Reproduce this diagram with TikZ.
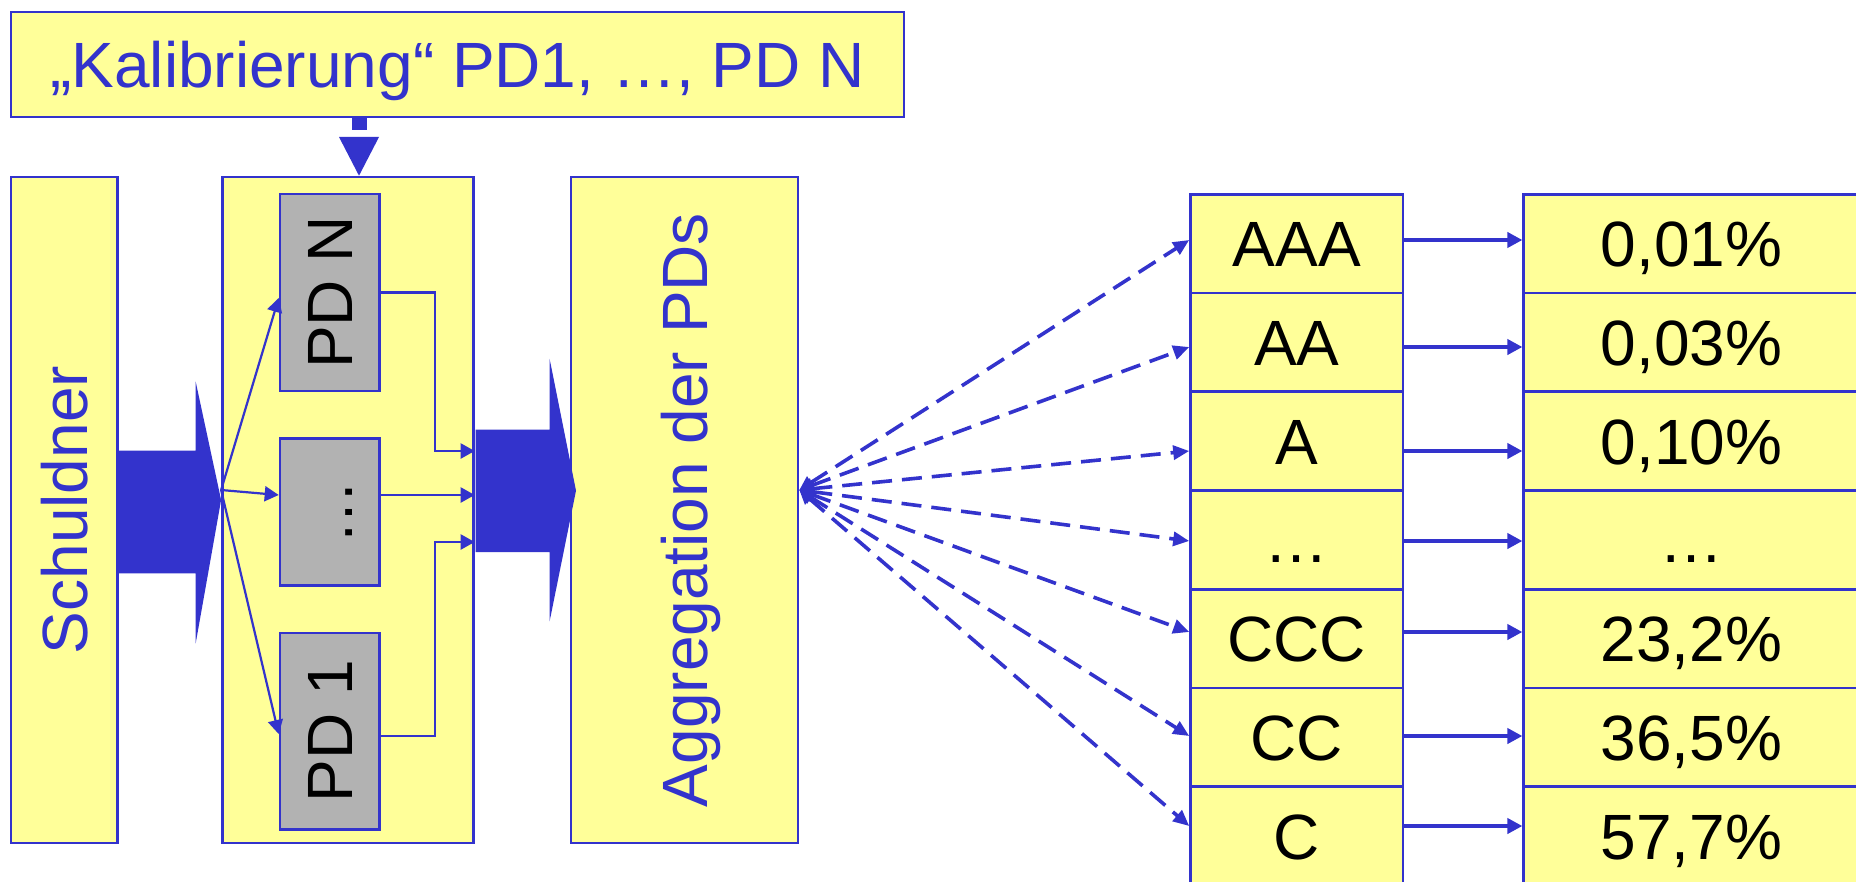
\documentclass[tikz,border=0pt]{standalone}
\usepackage{fontspec}
\setmainfont{Liberation Sans}
\usetikzlibrary{arrows.meta}
\definecolor{pdblue}{RGB}{51,51,204}
\definecolor{pdyellow}{RGB}{255,255,153}
\definecolor{pdgray}{RGB}{178,178,178}
\tikzset{
  box/.style={draw=pdblue, line width=1.3pt, fill=pdyellow, inner sep=0pt},
  graybox/.style={draw=pdblue, line width=1.3pt, fill=pdgray, inner sep=0pt},
  txt/.style={font=\fontsize{32pt}{38pt}\selectfont, text height=23pt, text depth=0pt, inner sep=0pt},
  bluetxt/.style={txt, text=pdblue},
  thinarr/.style={draw=pdblue, line width=1.1pt, -{Triangle[length=7pt,width=7.5pt]}},
  ratearr/.style={draw=pdblue, line width=1.9pt, -{Triangle[length=7.5pt,width=7.5pt]}},
  dasharr/.style={draw=pdblue, line width=1.8pt, dash pattern=on 10pt off 5pt,
    {Triangle[length=7pt,width=7pt]}-{Triangle[length=8pt,width=7pt]}},
}
\begin{document}
\begin{tikzpicture}[x=0.5pt,y=-0.5pt]
\useasboundingbox (0,0) rectangle (1856,882);
\fill[white] (0,0) rectangle (1856,882);
\clip (0,0) rectangle (1856,882);

% header: calibration
\node[box, bluetxt, minimum width=446.5pt, minimum height=52.5pt] (kal) at (457.5,64.5)
  {„Kalibrierung“ PD1, …, PD N};

% debtor
\node[box, minimum width=53.25pt, minimum height=333pt] (sch) at (64.25,510) {};
\node[bluetxt, rotate=90] (schtxt) at (sch.center) {Schuldner};

% rating models
\node[box, minimum width=125.5pt, minimum height=333pt] (mid) at (347.9,510) {};
\node[graybox, minimum width=49.8pt, minimum height=98.5pt] (pdN) at (329.8,292.5) {};
\node[txt, rotate=90] (pdNtxt) at (pdN.center) {PD N};
\node[graybox, minimum width=49.8pt, minimum height=73.45pt] (pdD) at (329.8,512.15) {};
\node[txt, rotate=90] (pdDtxt) at (pdD.center) {…};
\node[graybox, minimum width=49.8pt, minimum height=98.2pt] (pd1) at (329.8,731.2) {};
\node[txt, rotate=90] (pd1txt) at (pd1.center) {PD 1};

% aggregation
\node[box, minimum width=113.5pt, minimum height=333pt] (agg) at (684.5,510) {};
\node[bluetxt, rotate=90] (aggtxt) at (agg.center) {Aggregation der PDs};

% calibration arrow
\fill[pdblue] (352,0 |- kal.south) rectangle (367,130);
\fill[pdblue] (339,137) -- (379,137) -- (359,0 |- mid.north) -- cycle;

% block arrows
\fill[pdblue] (sch.east |- 0,450.7) -- (195.7,450.7) -- (195.7,381.7) -- (mid.west |- 0,500)
  -- (195.7,643.3) -- (195.7,573.3) -- (sch.east |- 0,573.3) -- cycle;
\fill[pdblue] (475.5,429.5) -- (549.6,429.5) -- (549.6,358.8) -- (576,490.6)
  -- (549.6,621.4) -- (549.6,552) -- (475.5,552) -- cycle;

% fan out to the models
\coordinate (fan) at (mid.west |- 0,490);
\draw[thinarr] (fan) -- (pdN.west |- 0,298);
\draw[thinarr] (fan) -- (pdD.west |- 0,495);
\draw[thinarr] (fan) -- (pd1.west |- 0,734);

% collect model outputs
\draw[thinarr] (pdN.east) -| (435,451) -- (mid.east |- 0,451);
\draw[thinarr] (pdD.east |- 0,495) -- (mid.east |- 0,495);
\draw[thinarr] (pd1.east |- 0,736) -| (435,542) -- (mid.east |- 0,542);

% rating grades and default probabilities
\foreach \lab/\val/\ay [count=\i] in {AAA/{0,01\%}/240, AA/{0,03\%}/347, A/{0,10\%}/451,
    …/…/541, CCC/{23,2\%}/632, CC/{36,5\%}/736, C/{57,7\%}/826}
{
  \node[box, txt, minimum width=106.25pt, minimum height=49.37pt] (r\i)
    at (1296.75,{243.67+(\i-1)*98.73}) {\lab};
  \node[box, txt, minimum width=167.65pt, minimum height=49.37pt] (p\i)
    at (1691.35,{243.67+(\i-1)*98.73}) {\val};
  \draw[ratearr] (r\i.east |- 0,\ay) -- (p\i.west |- 0,\ay);
  \draw[dasharr] (agg.east |- 0,490) -- (r\i.west |- 0,\ay);
}
\end{tikzpicture}
\end{document}
